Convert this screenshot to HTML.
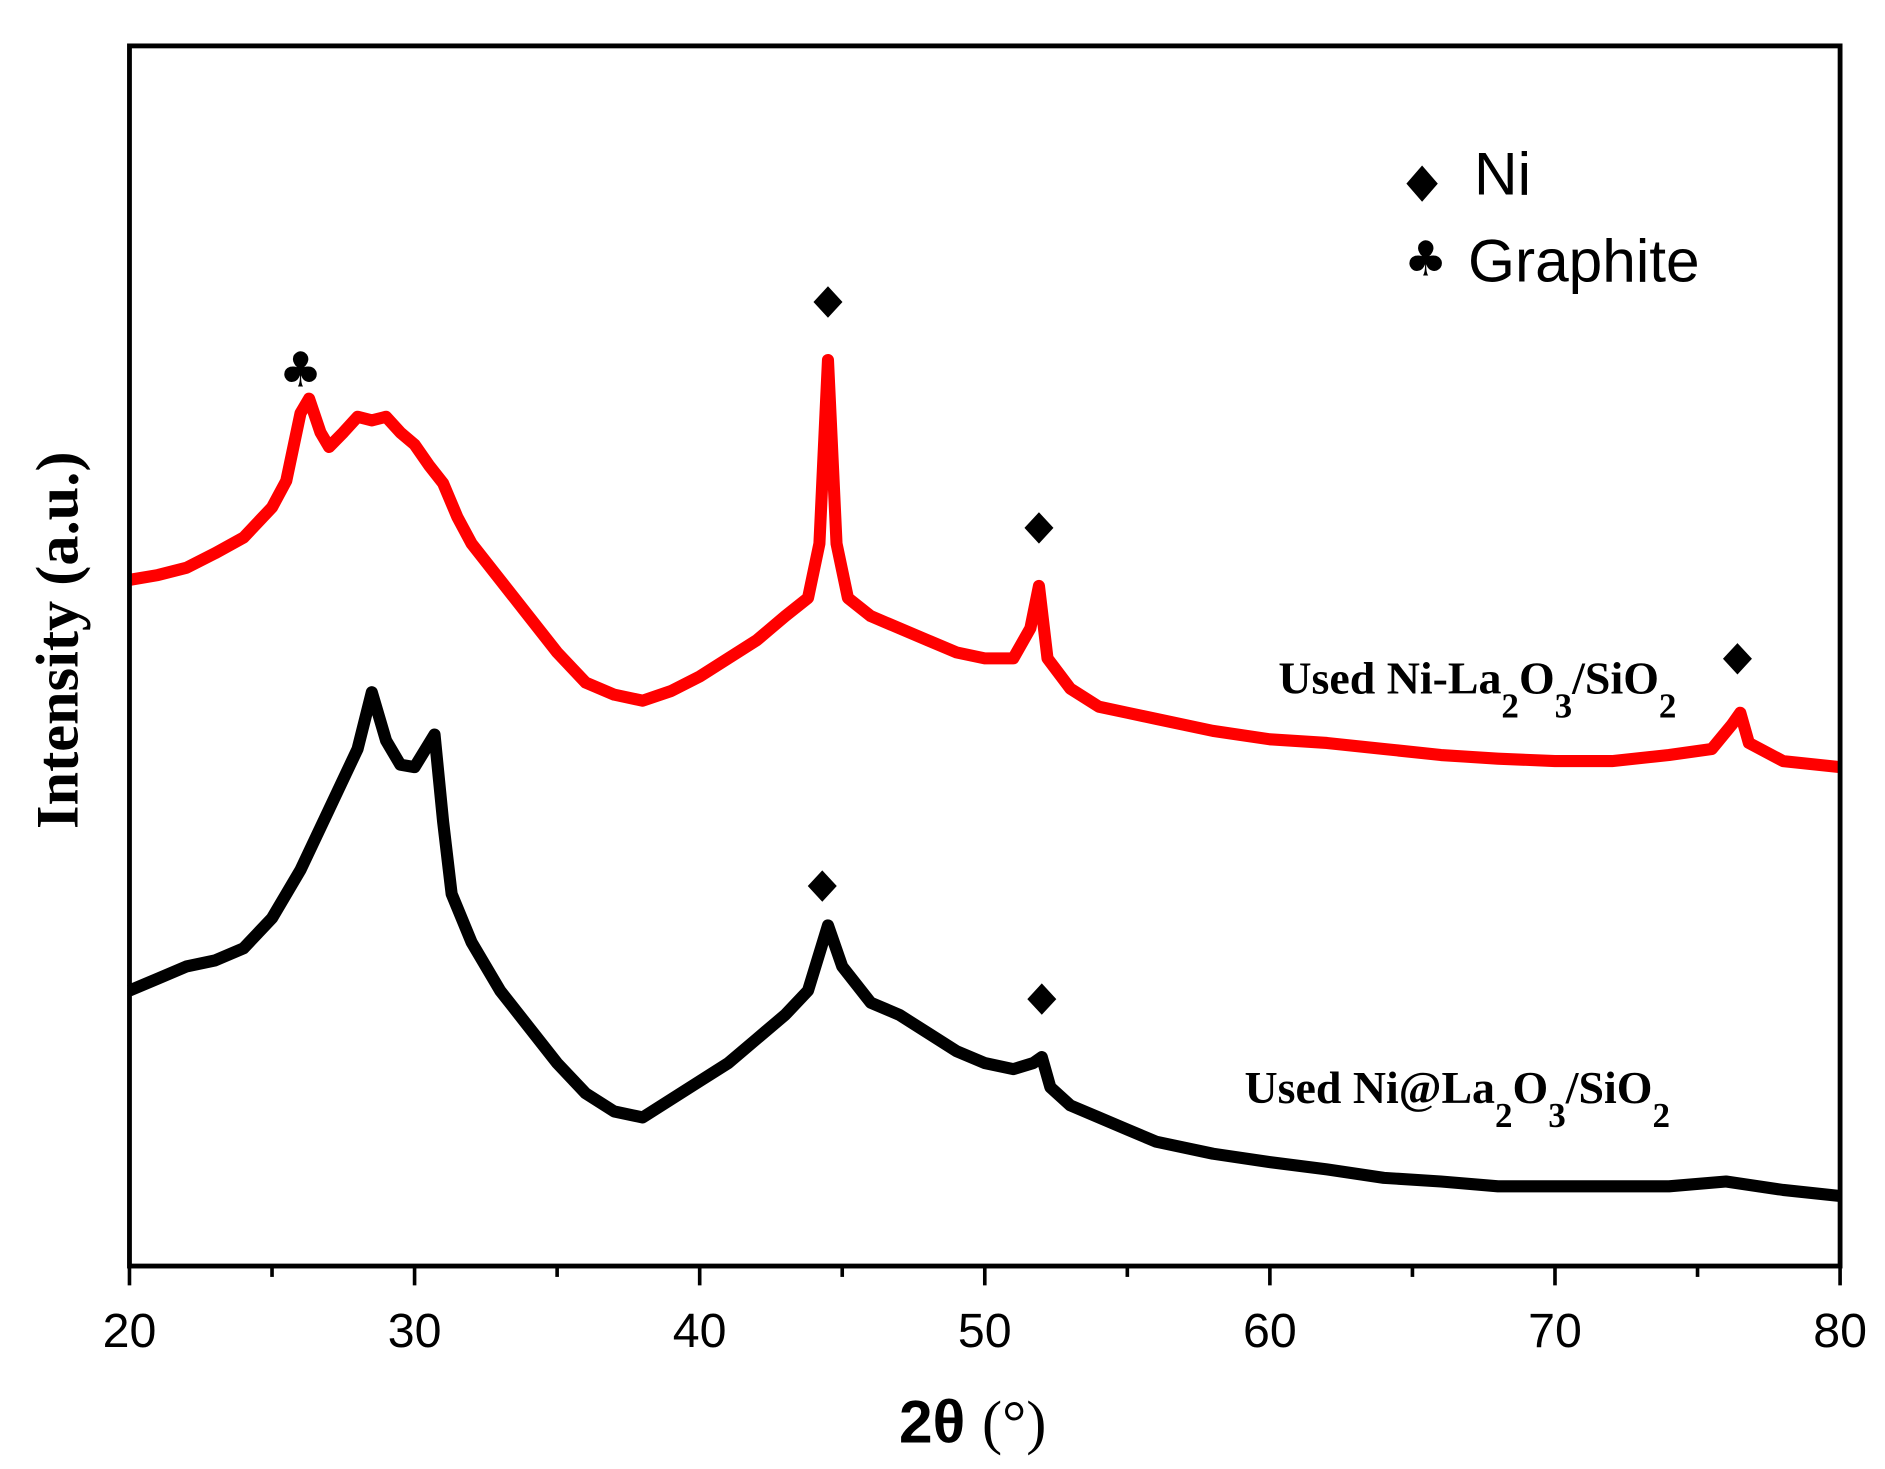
<!DOCTYPE html>
<html><head><meta charset="utf-8"><style>
html,body{margin:0;padding:0;background:#fff;}
svg{display:block;}
</style></head><body>
<svg id="chart" width="1885" height="1469" viewBox="0 0 1560 1216" xmlns="http://www.w3.org/2000/svg">
<rect x="0" y="0" width="1560" height="1216" fill="#fff"/>
<g id="series"></g>
<rect x="107" y="38" width="1416" height="1010" fill="none" stroke="#000" stroke-width="4"/>
<g id="axis"></g>
<text x="805" y="1194" text-anchor="middle" font-family="Liberation Sans, sans-serif" font-size="50"><tspan font-weight="bold">2θ</tspan> <tspan font-family="Liberation Serif, serif">(°)</tspan></text>
<text transform="translate(64,530) rotate(-90)" text-anchor="middle" font-family="Liberation Serif, serif" font-weight="bold" font-size="50">Intensity (a.u.)</text>
<g font-family="Liberation Sans, sans-serif" font-size="50">
<path d="M1177,137 L1190,152 L1177,167 L1164,152Z" fill="#000"/>
<text x="1220" y="161">Ni</text>
<text x="1180" y="228" text-anchor="middle" font-family="DejaVu Sans, sans-serif" font-size="40">♣</text>
<text x="1215" y="233">Graphite</text>
</g>
<g font-family="Liberation Serif, serif" font-weight="bold" font-size="38">
<text x="1058" y="574">Used Ni-La<tspan dy="20" font-size="29">2</tspan><tspan dy="-20">O</tspan><tspan dy="20" font-size="29">3</tspan><tspan dy="-20">/SiO</tspan><tspan dy="20" font-size="29">2</tspan></text>
<text x="1030" y="913">Used Ni@La<tspan dy="20" font-size="29">2</tspan><tspan dy="-20">O</tspan><tspan dy="20" font-size="29">3</tspan><tspan dy="-20">/SiO</tspan><tspan dy="20" font-size="29">2</tspan></text>
</g>
<g id="markers"></g>
</svg>
<script>
const xTicks = [20,30,40,50,60,70,80];
const xMinor = [25,35,45,55,65,75];
const redX = [20,21,22,23,24,25,25.5,26,26.3,26.7,27,27.5,28,28.5,29,29.5,30,30.5,31,31.5,32,33,34,35,36,37,38,39,40,41,42,43,43.8,44.2,44.5,44.8,45.2,46,47,48,49,50,51,51.6,51.9,52.2,53,54,55,56,58,60,62,64,66,68,70,72,74,75.5,76.2,76.5,76.8,78,80];
const redY = [568,572,578,590,603,628,650,706,718,690,678,690,703,700,703,690,680,663,648,620,598,568,538,508,483,473,468,476,488,503,518,538,553,598,750,598,553,538,528,518,508,503,503,528,563,503,478,463,458,453,443,436,433,428,423,420,418,418,423,428,448,458,433,418,413];
const blackX = [20,21,22,23,24,25,26,27,27.5,28,28.5,29,29.5,30,30.7,31,31.3,32,33,34,35,36,37,38,39,40,41,42,43,43.8,44.5,45,46,47,48,49,50,51,51.7,52,52.3,53,54,55,56,58,60,62,64,66,68,70,72,74,76,78,80];
const blackY = [228,238,248,253,263,288,328,378,403,428,475,435,415,413,440,368,308,268,228,198,168,143,128,123,138,153,168,188,208,228,282,248,218,208,193,178,168,163,168,173,148,133,123,113,103,93,86,80,73,70,66,66,66,66,70,63,58];
const niRed = [44.5,51.9,76.4];
const niBlack = [44.3,52.0];
const graphite = [26.0];

const X0=107, X1=1523, Y0=1048;
function sx(v){return X0+(v-20)*(X1-X0)/60;}
function sy(i){return Y0-i;}
const NS="http://www.w3.org/2000/svg";
const series=document.getElementById('series');
function drawLine(xs,ys,color,name){
  const p=document.createElementNS(NS,'polyline');
  p.setAttribute('points',xs.map((x,i)=>sx(x)+','+sy(ys[i])).join(' '));
  p.setAttribute('fill','none');p.setAttribute('stroke',color);
  p.setAttribute('stroke-width','10');p.setAttribute('stroke-linejoin','round');
  
  
  series.appendChild(p);
}
drawLine(redX,redY,'#ff0000','series-used-ni-la2o3-sio2');
drawLine(blackX,blackY,'#000000','series-used-ni-at-la2o3-sio2');

const axis=document.getElementById('axis');
xTicks.forEach(v=>{
  const l=document.createElementNS(NS,'line');
  l.setAttribute('x1',sx(v));l.setAttribute('x2',sx(v));l.setAttribute('y1',Y0);l.setAttribute('y2',Y0+16);
  l.setAttribute('stroke','#000');l.setAttribute('stroke-width','3');
  
  
  axis.appendChild(l);
  const t=document.createElementNS(NS,'text');
  t.setAttribute('x',sx(v));t.setAttribute('y',1115);t.setAttribute('text-anchor','middle');
  t.setAttribute('font-family','Liberation Sans, sans-serif');t.setAttribute('font-size','40');
  t.textContent=v;
  
  
  axis.appendChild(t);
});
xMinor.forEach(v=>{
  const l=document.createElementNS(NS,'line');
  l.setAttribute('x1',sx(v));l.setAttribute('x2',sx(v));l.setAttribute('y1',Y0);l.setAttribute('y2',Y0+9);
  l.setAttribute('stroke','#000');l.setAttribute('stroke-width','3');
  
  
  axis.appendChild(l);
});

const markers=document.getElementById('markers');
function interp(xs,ys,v){for(let i=0;i<xs.length-1;i++){if(v>=xs[i]&&v<=xs[i+1]){const f=(v-xs[i])/(xs[i+1]-xs[i]);return ys[i]+f*(ys[i+1]-ys[i]);}}return ys[ys.length-1];}
function diamond(v,xs,ys,name){
  const cx=sx(v), cy=sy(interp(xs,ys,v))-48;
  const p=document.createElementNS(NS,'path');
  p.setAttribute('d',`M${cx},${cy-13} L${cx+12},${cy} L${cx},${cy+13} L${cx-12},${cy}Z`);
  p.setAttribute('fill','#000');
  
  
  markers.appendChild(p);
}
niRed.forEach(v=>diamond(v,redX,redY,'ni-peak-marker'));
niBlack.forEach(v=>diamond(v,blackX,blackY,'ni-peak-marker'));
graphite.forEach(v=>{
  const t=document.createElementNS(NS,'text');
  t.setAttribute('x',sx(v));t.setAttribute('y',sy(interp(redX,redY,v))-22);
  t.setAttribute('text-anchor','middle');t.setAttribute('font-family','DejaVu Sans, sans-serif');t.setAttribute('font-size','40');
  t.textContent='♣';
  
  
  markers.appendChild(t);
});
</script>
</body></html>
